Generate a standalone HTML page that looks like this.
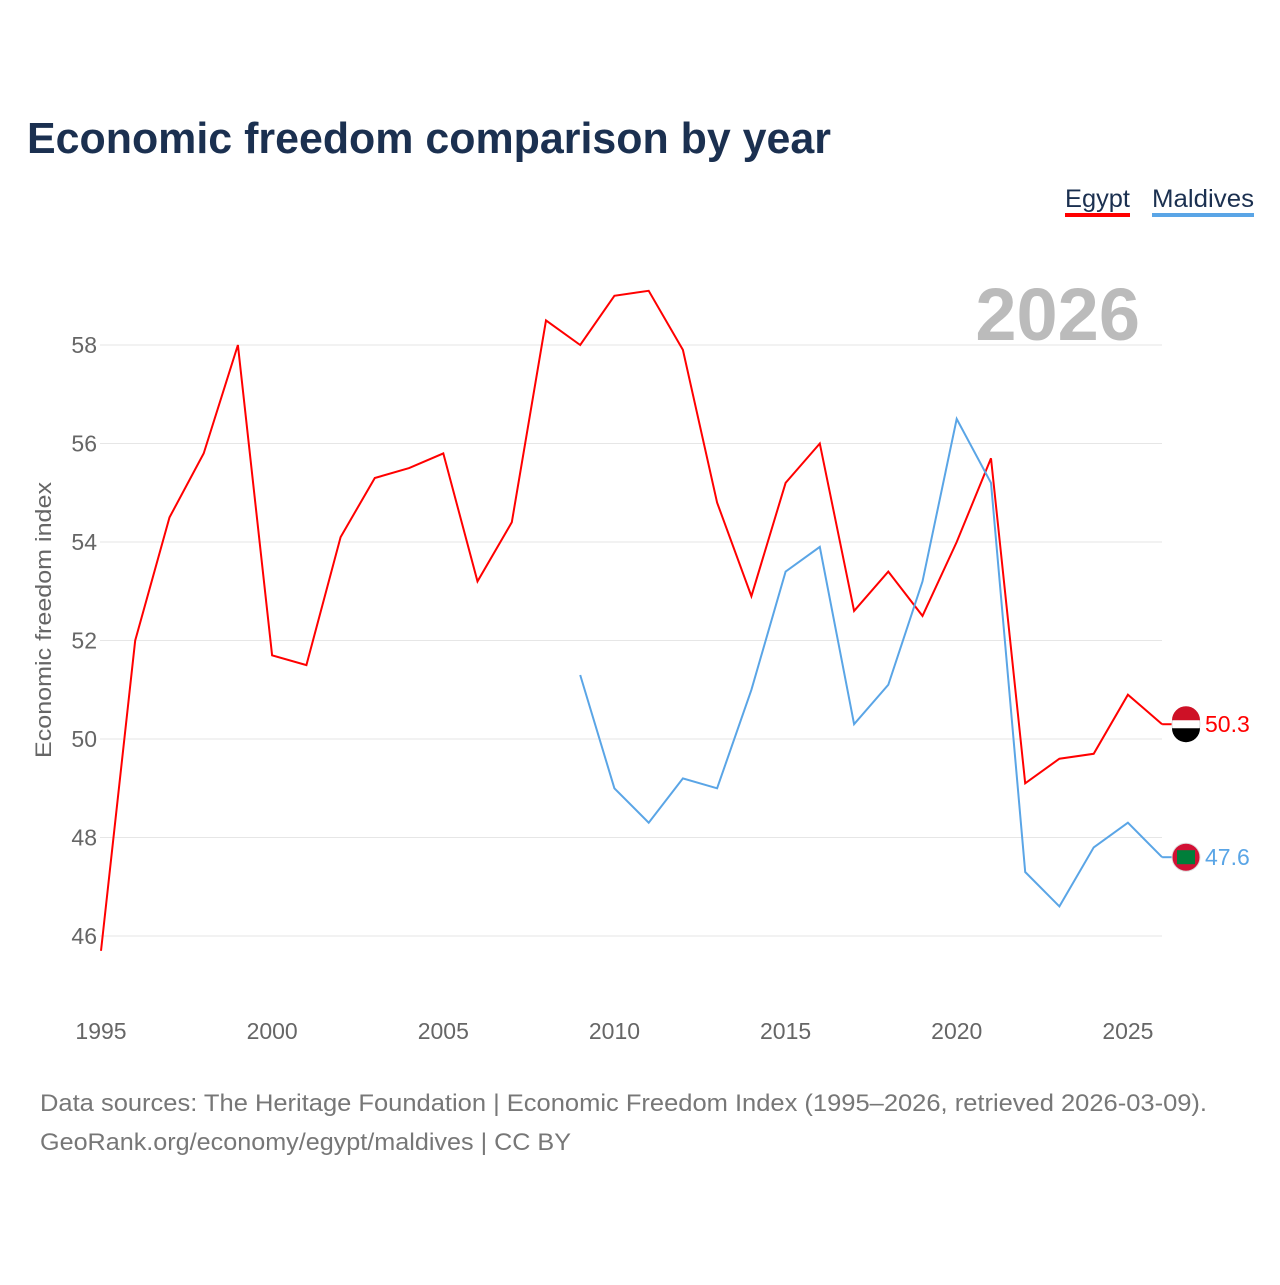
<!DOCTYPE html>
<html><head><meta charset="utf-8"><style>
body{margin:0;background:#fff;font-family:"Liberation Sans",sans-serif}
</style></head><body>
<svg id="chart" width="1280" height="1280" xmlns="http://www.w3.org/2000/svg">
<text x="27" y="153" font-size="44" font-weight="bold" fill="#1b3050" textLength="804" lengthAdjust="spacingAndGlyphs">Economic freedom comparison by year</text>
<g>
<text x="1065" y="207" font-size="25" fill="#1b3050" textLength="65" lengthAdjust="spacingAndGlyphs">Egypt</text>
<rect x="1065" y="213" width="65" height="4" fill="#ff0000"/>
<text x="1152" y="207" font-size="25" fill="#1b3050" textLength="102" lengthAdjust="spacingAndGlyphs">Maldives</text>
<rect x="1152" y="213" width="102" height="4" fill="#5aa5e6"/>
</g>
<text x="1140" y="340" font-size="74" font-weight="bold" fill="#bbbbbb" text-anchor="end">2026</text>
<text transform="translate(51,620) rotate(-90)" font-size="22" fill="#666" text-anchor="middle" textLength="276" lengthAdjust="spacingAndGlyphs">Economic freedom index</text>
<g id="grid"></g><g id="xt"></g><g id="lines"></g>
<text x="40" y="1111" font-size="24" fill="#777" textLength="1167" lengthAdjust="spacingAndGlyphs">Data sources: The Heritage Foundation | Economic Freedom Index (1995–2026, retrieved 2026-03-09).</text>
<text x="40" y="1150" font-size="24" fill="#777" textLength="531" lengthAdjust="spacingAndGlyphs">GeoRank.org/economy/egypt/maldives | CC BY</text>
</svg>
<script>
const years=[1995,1996,1997,1998,1999,2000,2001,2002,2003,2004,2005,2006,2007,2008,2009,2010,2011,2012,2013,2014,2015,2016,2017,2018,2019,2020,2021,2022,2023,2024,2025,2026];
const egypt=[45.7,52.0,54.5,55.8,58.0,51.7,51.5,54.1,55.3,55.5,55.8,53.2,54.4,58.5,58.0,59.0,59.1,57.9,54.8,52.9,55.2,56.0,52.6,53.4,52.5,54.0,55.7,49.1,49.6,49.7,50.9,50.3];
const maldives=[null,null,null,null,null,null,null,null,null,null,null,null,null,null,51.3,49.0,48.3,49.2,49.0,51.0,53.4,53.9,50.3,51.1,53.2,56.5,55.2,47.3,46.6,47.8,48.3,47.6];
const yTicks=[46,48,50,52,54,56,58];
const xTicks=[1995,2000,2005,2010,2015,2020,2025];
const NS="http://www.w3.org/2000/svg";
const X=y=>101+(y-1995)*34.23;
const Y=v=>936-(v-46)*49.25;
function mk(t,a,p){const e=document.createElementNS(NS,t);for(const k in a)e.setAttribute(k,a[k]);p.appendChild(e);return e;}
const grid=document.getElementById('grid');
yTicks.forEach(v=>{
 const l=mk('line',{x1:100,x2:1162,y1:Y(v),y2:Y(v),stroke:'#e6e6e6','stroke-width':1},grid);
 
 
 const t=mk('text',{x:97,y:Y(v)+8,'font-size':23,fill:'#666','text-anchor':'end'},grid);
 t.textContent=v;
 
 
});
const xt=document.getElementById('xt');
xTicks.forEach(y=>{
 const t=mk('text',{x:X(y),y:1039,'font-size':23,fill:'#666','text-anchor':'middle'},xt);
 t.textContent=y;
 
 
});
const lines=document.getElementById('lines');
function series(vals,col,name){
 let d='';let last=null;
 vals.forEach((v,i)=>{if(v==null)return;d+=(d?'L':'M')+X(years[i]).toFixed(1)+','+Y(v).toFixed(1);last=[X(years[i]),Y(v),v];});
 const p=mk('path',{d:d,fill:'none',stroke:col,'stroke-width':2},lines);
 
 
 const c=mk('line',{x1:last[0],x2:1175,y1:last[1],y2:last[1],stroke:col,'stroke-width':2},lines);
 
 
 const f=mk('circle',{cx:1186,cy:last[1],r:14,fill:name==='egypt'?'#ffffff':'#d21034',stroke:'#ddd'},lines);
 
 
 if(name==='egypt'){
  mk('path',{d:`M1172,${last[1]-4}A14,14 0 0 1 1200,${last[1]-4}Z`,fill:'#ce1126'},lines);
  mk('path',{d:`M1172,${last[1]+4}A14,14 0 0 0 1200,${last[1]+4}Z`,fill:'#000'},lines);
 }else{
  mk('rect',{x:1177,y:last[1]-7,width:18,height:14,fill:'#007e3a'},lines);
 }
 const t=mk('text',{x:1205,y:last[1]+8,'font-size':23,fill:col},lines);
 t.textContent=last[2].toFixed(1);
 
 
}
series(egypt,'#ff0000','egypt');
series(maldives,'#5aa5e6','maldives');
</script>
</body></html>
